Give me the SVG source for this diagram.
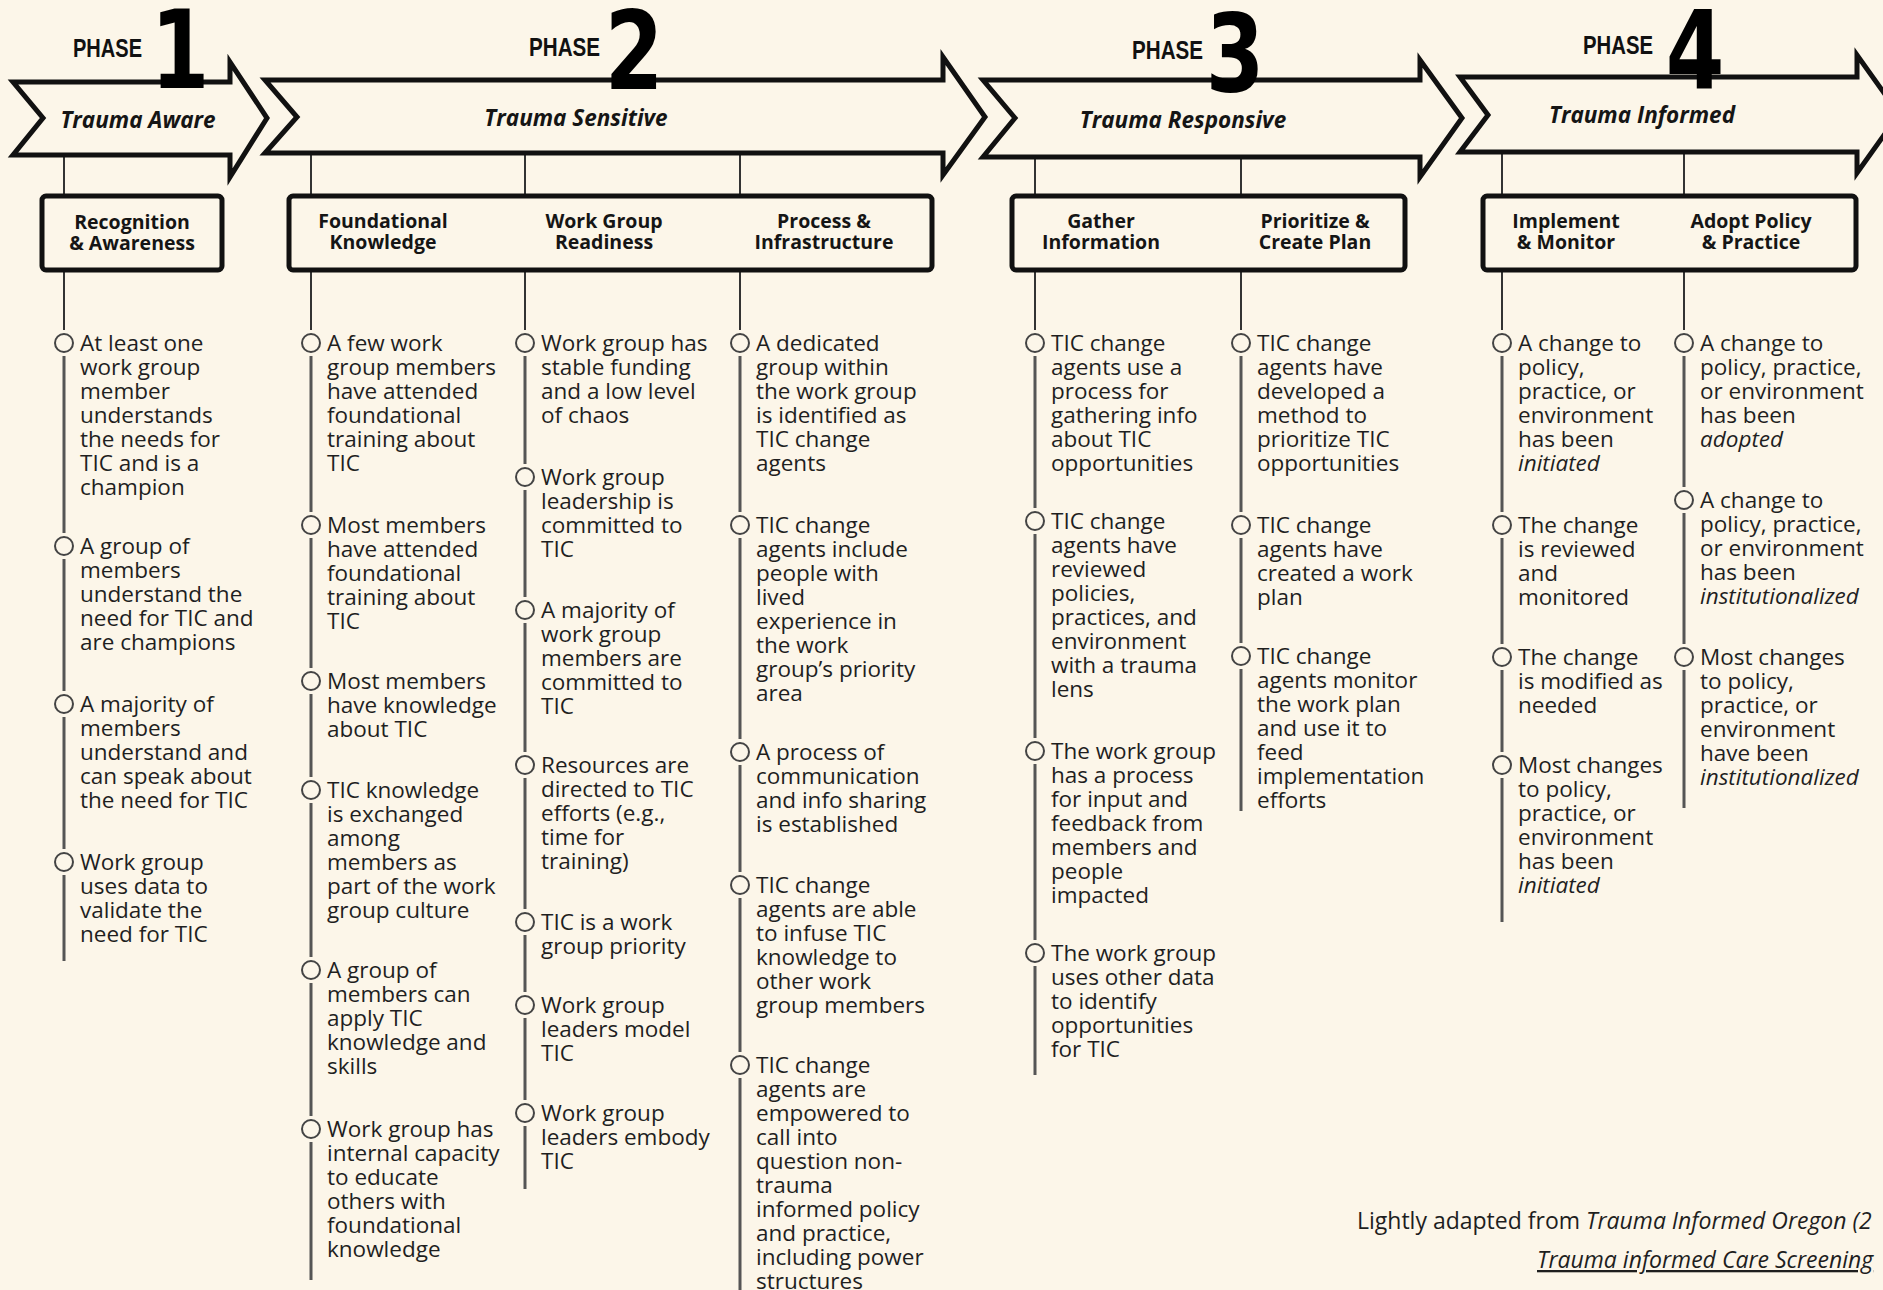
<svg xmlns="http://www.w3.org/2000/svg" width="1883" height="1290" viewBox="0 0 1883 1290">
<style>
.arrow{fill:#FCF6E9;stroke:#111;stroke-width:5;stroke-linejoin:miter}
.box{fill:none;stroke:#111;stroke-width:5}
.conn{stroke:#333;stroke-width:2;fill:none}
.spine{stroke:#555;stroke-width:3;fill:none}
.dot{fill:#FCF6E9;stroke:#444;stroke-width:2}
.item{font-family:"Open Sans",sans-serif;font-size:22.5px;fill:#1f1f1f}
.hdr{font-family:"Open Sans",sans-serif;font-weight:bold;font-size:19.5px;fill:#151515;text-anchor:middle}
.ph{font-family:"Liberation Sans",sans-serif;font-weight:bold;font-size:26px;fill:#111}
.digit{font-family:"DejaVu Sans",sans-serif;font-weight:bold;font-size:108px;fill:#000;text-anchor:middle}
.alabel{font-family:"Open Sans",sans-serif;font-style:italic;font-weight:bold;font-size:22.5px;fill:#151515;text-anchor:middle}
.foot{font-family:"Open Sans",sans-serif;font-size:23px;fill:#1e1e1e}
.i{font-style:italic}
</style>
<rect width="1883" height="1290" fill="#FCF6E9"/>

<g id="connectors">
  <line class="conn" x1="64" y1="155" x2="64" y2="196"/>
  <line class="conn" x1="311" y1="153" x2="311" y2="196"/>
  <line class="conn" x1="525" y1="153" x2="525" y2="196"/>
  <line class="conn" x1="740" y1="153" x2="740" y2="196"/>
  <line class="conn" x1="1035" y1="157" x2="1035" y2="196"/>
  <line class="conn" x1="1241" y1="157" x2="1241" y2="196"/>
  <line class="conn" x1="1502" y1="152" x2="1502" y2="196"/>
  <line class="conn" x1="1684" y1="152" x2="1684" y2="196"/>
  <line class="conn" x1="64" y1="272" x2="64" y2="330"/>
  <line class="conn" x1="311" y1="272" x2="311" y2="330"/>
  <line class="conn" x1="525" y1="272" x2="525" y2="330"/>
  <line class="conn" x1="740" y1="272" x2="740" y2="330"/>
  <line class="conn" x1="1035" y1="272" x2="1035" y2="330"/>
  <line class="conn" x1="1241" y1="272" x2="1241" y2="330"/>
  <line class="conn" x1="1502" y1="272" x2="1502" y2="330"/>
  <line class="conn" x1="1684" y1="272" x2="1684" y2="330"/>
  <path class="spine" d="M64 356V533M64 559V691M64 717V849M64 875V961"/>
  <path class="spine" d="M311 356V512M311 538V668M311 694V777M311 803V957M311 983V1116M311 1142V1280"/>
  <path class="spine" d="M525 356V464M525 490V597M525 623V752M525 778V909M525 935V992M525 1018V1100M525 1126V1189"/>
  <path class="spine" d="M740 356V512M740 538V739M740 765V872M740 898V1052M740 1078V1290"/>
  <path class="spine" d="M1035 356V508M1035 534V738M1035 764V940M1035 966V1075"/>
  <path class="spine" d="M1241 356V512M1241 538V643M1241 669V811"/>
  <path class="spine" d="M1502 356V512M1502 538V644M1502 670V752M1502 778V922"/>
  <path class="spine" d="M1684 356V487M1684 513V644M1684 670V808"/>
</g>

<g id="phase1">
  <polygon class="arrow" points="13,82 230,82 230,62 267,118 230,177 230,155 13,155 43,118"/>
  <text class="alabel" x="138" y="128">Trauma Aware</text>
  <text class="ph" x="73" y="57" textLength="69" lengthAdjust="spacingAndGlyphs">PHASE</text>
  <text class="digit" transform="translate(180,88) scale(0.78,1)">1</text>
</g>
<g id="phase2">
  <polygon class="arrow" points="265,80 943,80 943,57 985,117 943,175 943,153 265,153 297,117"/>
  <text class="alabel" x="576" y="126">Trauma Sensitive</text>
  <text class="ph" x="529" y="56" textLength="71" lengthAdjust="spacingAndGlyphs">PHASE</text>
  <text class="digit" transform="translate(634,89) scale(0.78,1)">2</text>
</g>
<g id="phase3">
  <polygon class="arrow" points="983,80 1420,80 1420,60 1462,118 1420,177 1420,157 983,157 1015,118"/>
  <text class="alabel" x="1183" y="128">Trauma Responsive</text>
  <text class="ph" x="1132" y="59" textLength="71" lengthAdjust="spacingAndGlyphs">PHASE</text>
  <text class="digit" transform="translate(1235,91) scale(0.78,1)">3</text>
</g>
<g id="phase4">
  <polygon class="arrow" points="1460,77 1857,77 1857,55 1899,114 1857,173 1857,152 1460,152 1488,115"/>
  <text class="alabel" x="1642" y="123">Trauma Informed</text>
  <text class="ph" x="1583" y="54" textLength="70" lengthAdjust="spacingAndGlyphs">PHASE</text>
  <text class="digit" transform="translate(1695,88) scale(0.78,1)">4</text>
</g>

<g id="box1">
  <rect class="box" x="42" y="196" width="180" height="74" rx="4"/>
  <text class="hdr" x="132" y="229">Recognition</text>
  <text class="hdr" x="132" y="250">&amp; Awareness</text>
</g>
<g id="box2">
  <rect class="box" x="289" y="196" width="643" height="74" rx="4"/>
  <text class="hdr" x="383" y="228">Foundational</text>
  <text class="hdr" x="383" y="249">Knowledge</text>
  <text class="hdr" x="604" y="228">Work Group</text>
  <text class="hdr" x="604" y="249">Readiness</text>
  <text class="hdr" x="824" y="228">Process &amp;</text>
  <text class="hdr" x="824" y="249">Infrastructure</text>
</g>
<g id="box3">
  <rect class="box" x="1012" y="196" width="393" height="74" rx="4"/>
  <text class="hdr" x="1101" y="228">Gather</text>
  <text class="hdr" x="1101" y="249">Information</text>
  <text class="hdr" x="1315" y="228">Prioritize &amp;</text>
  <text class="hdr" x="1315" y="249">Create Plan</text>
</g>
<g id="box4">
  <rect class="box" x="1483" y="196" width="373" height="74" rx="4"/>
  <text class="hdr" x="1566" y="228">Implement</text>
  <text class="hdr" x="1566" y="249">&amp; Monitor</text>
  <text class="hdr" x="1751" y="228">Adopt Policy</text>
  <text class="hdr" x="1751" y="249">&amp; Practice</text>
</g>

<g id="c1i1"><circle class="dot" cx="64" cy="343" r="9"/><text class="item" y="351"><tspan x="80">At least one</tspan><tspan x="80" dy="24">work group</tspan><tspan x="80" dy="24">member</tspan><tspan x="80" dy="24">understands</tspan><tspan x="80" dy="24">the needs for</tspan><tspan x="80" dy="24">TIC and is a</tspan><tspan x="80" dy="24">champion</tspan></text></g>
<g id="c1i2"><circle class="dot" cx="64" cy="546" r="9"/><text class="item" y="554"><tspan x="80">A group of</tspan><tspan x="80" dy="24">members</tspan><tspan x="80" dy="24">understand the</tspan><tspan x="80" dy="24">need for TIC and</tspan><tspan x="80" dy="24">are champions</tspan></text></g>
<g id="c1i3"><circle class="dot" cx="64" cy="704" r="9"/><text class="item" y="712"><tspan x="80">A majority of</tspan><tspan x="80" dy="24">members</tspan><tspan x="80" dy="24">understand and</tspan><tspan x="80" dy="24">can speak about</tspan><tspan x="80" dy="24">the need for TIC</tspan></text></g>
<g id="c1i4"><circle class="dot" cx="64" cy="862" r="9"/><text class="item" y="870"><tspan x="80">Work group</tspan><tspan x="80" dy="24">uses data to</tspan><tspan x="80" dy="24">validate the</tspan><tspan x="80" dy="24">need for TIC</tspan></text></g>

<g id="c2ai1"><circle class="dot" cx="311" cy="343" r="9"/><text class="item" y="351"><tspan x="327">A few work</tspan><tspan x="327" dy="24">group members</tspan><tspan x="327" dy="24">have attended</tspan><tspan x="327" dy="24">foundational</tspan><tspan x="327" dy="24">training about</tspan><tspan x="327" dy="24">TIC</tspan></text></g>
<g id="c2ai2"><circle class="dot" cx="311" cy="525" r="9"/><text class="item" y="533"><tspan x="327">Most members</tspan><tspan x="327" dy="24">have attended</tspan><tspan x="327" dy="24">foundational</tspan><tspan x="327" dy="24">training about</tspan><tspan x="327" dy="24">TIC</tspan></text></g>
<g id="c2ai3"><circle class="dot" cx="311" cy="681" r="9"/><text class="item" y="689"><tspan x="327">Most members</tspan><tspan x="327" dy="24">have knowledge</tspan><tspan x="327" dy="24">about TIC</tspan></text></g>
<g id="c2ai4"><circle class="dot" cx="311" cy="790" r="9"/><text class="item" y="798"><tspan x="327">TIC knowledge</tspan><tspan x="327" dy="24">is exchanged</tspan><tspan x="327" dy="24">among</tspan><tspan x="327" dy="24">members as</tspan><tspan x="327" dy="24">part of the work</tspan><tspan x="327" dy="24">group culture</tspan></text></g>
<g id="c2ai5"><circle class="dot" cx="311" cy="970" r="9"/><text class="item" y="978"><tspan x="327">A group of</tspan><tspan x="327" dy="24">members can</tspan><tspan x="327" dy="24">apply TIC</tspan><tspan x="327" dy="24">knowledge and</tspan><tspan x="327" dy="24">skills</tspan></text></g>
<g id="c2ai6"><circle class="dot" cx="311" cy="1129" r="9"/><text class="item" y="1137"><tspan x="327">Work group has</tspan><tspan x="327" dy="24">internal capacity</tspan><tspan x="327" dy="24">to educate</tspan><tspan x="327" dy="24">others with</tspan><tspan x="327" dy="24">foundational</tspan><tspan x="327" dy="24">knowledge</tspan></text></g>

<g id="c2bi1"><circle class="dot" cx="525" cy="343" r="9"/><text class="item" y="351"><tspan x="541">Work group has</tspan><tspan x="541" dy="24">stable funding</tspan><tspan x="541" dy="24">and a low level</tspan><tspan x="541" dy="24">of chaos</tspan></text></g>
<g id="c2bi2"><circle class="dot" cx="525" cy="477" r="9"/><text class="item" y="485"><tspan x="541">Work group</tspan><tspan x="541" dy="24">leadership is</tspan><tspan x="541" dy="24">committed to</tspan><tspan x="541" dy="24">TIC</tspan></text></g>
<g id="c2bi3"><circle class="dot" cx="525" cy="610" r="9"/><text class="item" y="618"><tspan x="541">A majority of</tspan><tspan x="541" dy="24">work group</tspan><tspan x="541" dy="24">members are</tspan><tspan x="541" dy="24">committed to</tspan><tspan x="541" dy="24">TIC</tspan></text></g>
<g id="c2bi4"><circle class="dot" cx="525" cy="765" r="9"/><text class="item" y="773"><tspan x="541">Resources are</tspan><tspan x="541" dy="24">directed to TIC</tspan><tspan x="541" dy="24">efforts (e.g.,</tspan><tspan x="541" dy="24">time for</tspan><tspan x="541" dy="24">training)</tspan></text></g>
<g id="c2bi5"><circle class="dot" cx="525" cy="922" r="9"/><text class="item" y="930"><tspan x="541">TIC is a work</tspan><tspan x="541" dy="24">group priority</tspan></text></g>
<g id="c2bi6"><circle class="dot" cx="525" cy="1005" r="9"/><text class="item" y="1013"><tspan x="541">Work group</tspan><tspan x="541" dy="24">leaders model</tspan><tspan x="541" dy="24">TIC</tspan></text></g>
<g id="c2bi7"><circle class="dot" cx="525" cy="1113" r="9"/><text class="item" y="1121"><tspan x="541">Work group</tspan><tspan x="541" dy="24">leaders embody</tspan><tspan x="541" dy="24">TIC</tspan></text></g>

<g id="c2ci1"><circle class="dot" cx="740" cy="343" r="9"/><text class="item" y="351"><tspan x="756">A dedicated</tspan><tspan x="756" dy="24">group within</tspan><tspan x="756" dy="24">the work group</tspan><tspan x="756" dy="24">is identified as</tspan><tspan x="756" dy="24">TIC change</tspan><tspan x="756" dy="24">agents</tspan></text></g>
<g id="c2ci2"><circle class="dot" cx="740" cy="525" r="9"/><text class="item" y="533"><tspan x="756">TIC change</tspan><tspan x="756" dy="24">agents include</tspan><tspan x="756" dy="24">people with</tspan><tspan x="756" dy="24">lived</tspan><tspan x="756" dy="24">experience in</tspan><tspan x="756" dy="24">the work</tspan><tspan x="756" dy="24">group’s priority</tspan><tspan x="756" dy="24">area</tspan></text></g>
<g id="c2ci3"><circle class="dot" cx="740" cy="752" r="9"/><text class="item" y="760"><tspan x="756">A process of</tspan><tspan x="756" dy="24">communication</tspan><tspan x="756" dy="24">and info sharing</tspan><tspan x="756" dy="24">is established</tspan></text></g>
<g id="c2ci4"><circle class="dot" cx="740" cy="885" r="9"/><text class="item" y="893"><tspan x="756">TIC change</tspan><tspan x="756" dy="24">agents are able</tspan><tspan x="756" dy="24">to infuse TIC</tspan><tspan x="756" dy="24">knowledge to</tspan><tspan x="756" dy="24">other work</tspan><tspan x="756" dy="24">group members</tspan></text></g>
<g id="c2ci5"><circle class="dot" cx="740" cy="1065" r="9"/><text class="item" y="1073"><tspan x="756">TIC change</tspan><tspan x="756" dy="24">agents are</tspan><tspan x="756" dy="24">empowered to</tspan><tspan x="756" dy="24">call into</tspan><tspan x="756" dy="24">question non-</tspan><tspan x="756" dy="24">trauma</tspan><tspan x="756" dy="24">informed policy</tspan><tspan x="756" dy="24">and practice,</tspan><tspan x="756" dy="24">including power</tspan><tspan x="756" dy="24">structures</tspan></text></g>

<g id="c3ai1"><circle class="dot" cx="1035" cy="343" r="9"/><text class="item" y="351"><tspan x="1051">TIC change</tspan><tspan x="1051" dy="24">agents use a</tspan><tspan x="1051" dy="24">process for</tspan><tspan x="1051" dy="24">gathering info</tspan><tspan x="1051" dy="24">about TIC</tspan><tspan x="1051" dy="24">opportunities</tspan></text></g>
<g id="c3ai2"><circle class="dot" cx="1035" cy="521" r="9"/><text class="item" y="529"><tspan x="1051">TIC change</tspan><tspan x="1051" dy="24">agents have</tspan><tspan x="1051" dy="24">reviewed</tspan><tspan x="1051" dy="24">policies,</tspan><tspan x="1051" dy="24">practices, and</tspan><tspan x="1051" dy="24">environment</tspan><tspan x="1051" dy="24">with a trauma</tspan><tspan x="1051" dy="24">lens</tspan></text></g>
<g id="c3ai3"><circle class="dot" cx="1035" cy="751" r="9"/><text class="item" y="759"><tspan x="1051">The work group</tspan><tspan x="1051" dy="24">has a process</tspan><tspan x="1051" dy="24">for input and</tspan><tspan x="1051" dy="24">feedback from</tspan><tspan x="1051" dy="24">members and</tspan><tspan x="1051" dy="24">people</tspan><tspan x="1051" dy="24">impacted</tspan></text></g>
<g id="c3ai4"><circle class="dot" cx="1035" cy="953" r="9"/><text class="item" y="961"><tspan x="1051">The work group</tspan><tspan x="1051" dy="24">uses other data</tspan><tspan x="1051" dy="24">to identify</tspan><tspan x="1051" dy="24">opportunities</tspan><tspan x="1051" dy="24">for TIC</tspan></text></g>

<g id="c3bi1"><circle class="dot" cx="1241" cy="343" r="9"/><text class="item" y="351"><tspan x="1257">TIC change</tspan><tspan x="1257" dy="24">agents have</tspan><tspan x="1257" dy="24">developed a</tspan><tspan x="1257" dy="24">method to</tspan><tspan x="1257" dy="24">prioritize TIC</tspan><tspan x="1257" dy="24">opportunities</tspan></text></g>
<g id="c3bi2"><circle class="dot" cx="1241" cy="525" r="9"/><text class="item" y="533"><tspan x="1257">TIC change</tspan><tspan x="1257" dy="24">agents have</tspan><tspan x="1257" dy="24">created a work</tspan><tspan x="1257" dy="24">plan</tspan></text></g>
<g id="c3bi3"><circle class="dot" cx="1241" cy="656" r="9"/><text class="item" y="664"><tspan x="1257">TIC change</tspan><tspan x="1257" dy="24">agents monitor</tspan><tspan x="1257" dy="24">the work plan</tspan><tspan x="1257" dy="24">and use it to</tspan><tspan x="1257" dy="24">feed</tspan><tspan x="1257" dy="24">implementation</tspan><tspan x="1257" dy="24">efforts</tspan></text></g>

<g id="c4ai1"><circle class="dot" cx="1502" cy="343" r="9"/><text class="item" y="351"><tspan x="1518">A change to</tspan><tspan x="1518" dy="24">policy,</tspan><tspan x="1518" dy="24">practice, or</tspan><tspan x="1518" dy="24">environment</tspan><tspan x="1518" dy="24">has been</tspan><tspan x="1518" dy="24" class="i">initiated</tspan></text></g>
<g id="c4ai2"><circle class="dot" cx="1502" cy="525" r="9"/><text class="item" y="533"><tspan x="1518">The change</tspan><tspan x="1518" dy="24">is reviewed</tspan><tspan x="1518" dy="24">and</tspan><tspan x="1518" dy="24">monitored</tspan></text></g>
<g id="c4ai3"><circle class="dot" cx="1502" cy="657" r="9"/><text class="item" y="665"><tspan x="1518">The change</tspan><tspan x="1518" dy="24">is modified as</tspan><tspan x="1518" dy="24">needed</tspan></text></g>
<g id="c4ai4"><circle class="dot" cx="1502" cy="765" r="9"/><text class="item" y="773"><tspan x="1518">Most changes</tspan><tspan x="1518" dy="24">to policy,</tspan><tspan x="1518" dy="24">practice, or</tspan><tspan x="1518" dy="24">environment</tspan><tspan x="1518" dy="24">has been</tspan><tspan x="1518" dy="24" class="i">initiated</tspan></text></g>

<g id="c4bi1"><circle class="dot" cx="1684" cy="343" r="9"/><text class="item" y="351"><tspan x="1700">A change to</tspan><tspan x="1700" dy="24">policy, practice,</tspan><tspan x="1700" dy="24">or environment</tspan><tspan x="1700" dy="24">has been</tspan><tspan x="1700" dy="24" class="i">adopted</tspan></text></g>
<g id="c4bi2"><circle class="dot" cx="1684" cy="500" r="9"/><text class="item" y="508"><tspan x="1700">A change to</tspan><tspan x="1700" dy="24">policy, practice,</tspan><tspan x="1700" dy="24">or environment</tspan><tspan x="1700" dy="24">has been</tspan><tspan x="1700" dy="24" class="i">institutionalized</tspan></text></g>
<g id="c4bi3"><circle class="dot" cx="1684" cy="657" r="9"/><text class="item" y="665"><tspan x="1700">Most changes</tspan><tspan x="1700" dy="24">to policy,</tspan><tspan x="1700" dy="24">practice, or</tspan><tspan x="1700" dy="24">environment</tspan><tspan x="1700" dy="24">have been</tspan><tspan x="1700" dy="24" class="i">institutionalized</tspan></text></g>

<g id="footer">
  <text class="foot" x="1357" y="1229">Lightly adapted from <tspan class="i">Trauma Informed Oregon (2</tspan></text>
  <text class="foot i" x="1537" y="1268" text-decoration="underline">Trauma informed Care Screening</text>
</g>
</svg>
